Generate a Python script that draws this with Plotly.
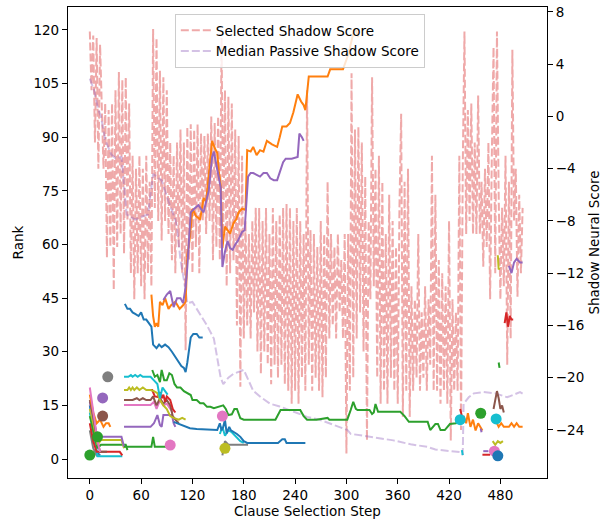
import plotly.graph_objects as go

# ---- right axis: shadow scores (one value every 2 steps) ----
selected_steps = list(range(0, 508, 2))
selected_score = [
    6.5, 2, 6.2, -2, 6, -4, 5.5, 1, -4, 1,
    -10.8, 0.5, -10, 1, -13.3, 2, -10, 3.4, -9, 2.8,
    -10.5, 3, -8, 1, -12, -3, -14, -4, -12, -3,
    -13, -4, -14, -3, -12, -5, -13, 6.7, -7, 6,
    -8, 3.5, -9.5, 3, -8, 2, -9, -2, -11, -3,
    -12, -2, -10, -1, -12, -2, -17.9, -0.8, -11, -0.6,
    -12, -1, -10, -0.6, -12, -1.3, -8, -1.5, -9, -1.3,
    -8, 0, -11, -0.5, -10, 0, -11, 6, -9, 2,
    -13, 1.5, -12, 1, -11, -1, -16, -1.5, -20.7, -3,
    -17, -8, -16, -9, -17, -8, -15, -7, -18, -7,
    -19.7, -8, -18, -7, -19, -9, -20.5, -7, -19, -8,
    -20, -7.5, -19, -7, -20.5, -6.7, -21, -7, -22, -8,
    -21, -7, -22, -8, -20, -9, -21, 2, -19, -8.7,
    -21, -9, -20, -10, -21, -8, -21.5, -9, -20, -5,
    -17, -9, -16, -10, -17, -9, -15, -11, -17, -9,
    -25.8, -9, -21, 3.3, -20, -1, -17, -0.8, -15, -2,
    -18, -4.6, -24.8, -8, -14, 3, -13, -4, -20, -3,
    -22, -5, -21, -9, -22, -6, -20, -8, -21, -10,
    -22, -7, 0.2, -23, -5, -21, -4, -23, -13, -21,
    -14, -20, -9, -21, -15, -20, -13, -21, -14, -19,
    -3, -21, -6, -21, -11, -22, -12, -21, -13, -22,
    -8, -24.8, -14, -21, -15, -21, -3, -24, -4, 6.5,
    -9, 0.5, -8, 1, -9, -2, -9, 1.6, -9, -5,
    -11.5, -4, -10, -2, -14, -3, 5.3, -12, 6.5, -6,
    -14, -7, -13, -3, -19, -5, -17, 5.1, -8, -4,
    -13.8, -6, -12, -7,
]

median_steps = [0, 5, 10, 13, 18, 25, 30, 37, 43, 53, 60, 68, 74, 84, 92, 100, 102,
                106, 110, 114, 120, 126, 129, 137, 145, 153, 156, 162, 168, 180, 191,
                200, 211, 222, 234, 254, 268, 281, 301, 305, 325, 340, 355, 375, 395,
                404, 420, 433, 436, 437, 443, 449, 460, 474, 488, 503, 508]
median_score = [2.9, 2, 0.5, 0, -1.8, -2.9, -3.2, -3.1, -7.5, -7.9, -7.7, -7.5, -4.4,
                -4.9, -6.5, -7.9, -8.5, -11, -12.5, -14.3, -14.2, -14.8, -15.1, -16,
                -17, -20, -20.5, -20, -19.7, -19.4, -21, -21.5, -22, -22.2, -22.5, -23,
                -23.2, -23.5, -24, -24.3, -24.5, -24.6, -24.8, -25.1, -25.3, -25.5,
                -25.6, -25.7, -25.9, -22, -21.5, -21.2, -21.1, -21.2, -21.5, -21.1, -21.3]

# ---- left axis: clause ranks ----
orange_steps = [72, 74, 76, 78, 80, 82, 85, 88, 92, 95, 100, 105, 109, 112, 114, 117, 120,
                124, 129, 133, 136, 139, 141, 143, 146, 149, 151, 153, 155, 158, 161, 164,
                168, 171, 174, 178, 182, 184, 188, 191, 195, 199, 203, 207, 213, 219, 222,
                225, 230, 234, 238, 243, 247, 250, 252, 256, 265, 272, 278, 281, 290, 296,
                299, 302, 305, 308, 311, 314]
orange_ranks = [46, 40, 37, 38, 37, 44, 43, 45, 42, 43, 44, 42, 43, 44, 57, 62, 70, 68, 67,
                73, 72, 80, 84, 89, 87, 85.6, 80, 77, 59, 65, 64, 63, 66, 67, 69, 70, 69.7,
                86.4, 86, 87.3, 85, 86.4, 86, 89, 88, 87.3, 90, 93, 93, 94, 97, 102, 100,
                99, 97.6, 107, 107, 107, 107, 109, 109, 109, 111, 113, 116, 119, 120, 118]

purple_steps = [86, 90, 94, 98, 102, 106, 109, 112, 114, 116, 118, 122, 127, 133, 136, 139,
                141, 143, 145, 147, 150, 153, 155, 158, 161, 164, 167, 170, 173, 178, 181,
                184, 185, 188, 191, 195, 199, 203, 207, 211, 215, 219, 223, 226, 229, 236,
                243, 245, 248, 250]
purple_ranks = [44.5, 46, 47, 42.5, 45, 45, 43.6, 48, 53.7, 62, 69, 70, 71, 69, 72, 75, 80,
                84.5, 86, 83.6, 80, 76, 53.7, 58, 61, 59, 58.5, 60, 61, 63.5, 64, 77, 79,
                80, 80, 79.5, 79, 80, 80, 78.5, 78, 78, 81, 83, 84, 84, 84.5, 91, 90, 89]

blue_steps = [41, 44, 47, 50, 53, 57, 60, 63, 66, 69, 72, 74, 78, 81, 84, 88, 92, 96, 100,
              104, 107, 110, 112, 114, 116, 118, 121, 125, 128, 132]
blue_ranks = [43.4, 42, 42, 41, 40.6, 40, 41, 39, 39, 38, 37, 32, 31, 32, 31.3, 32, 31.3,
              30, 28.5, 27, 26, 25.5, 24.3, 27, 31, 34, 35, 35, 34, 34]

green_steps = [73, 76, 79, 82, 84, 87, 90, 93, 96, 99, 102, 106, 110, 114, 118, 120, 125,
               129, 133, 137, 141, 145, 150, 156, 159, 162, 166, 169, 172, 176, 180, 190,
               200, 211, 217, 223, 230, 240, 246, 250, 254, 265, 278, 280, 290, 301, 305,
               308, 311, 313, 320, 327, 330, 332, 334, 337, 345, 355, 363, 368, 373, 385,
               395, 398, 404, 407, 410, 415, 421, 428, 433]
green_ranks = [24.9, 23, 23.5, 21.5, 24.9, 22, 22, 24, 23.5, 21, 20, 20, 19, 18.4, 17.9,
               16.5, 16.5, 15.6, 15.6, 14.6, 14.6, 14.2, 14.5, 15, 14, 12.3, 12.5, 14, 14,
               11.4, 11, 11, 11, 11, 11, 13.7, 13.7, 13.7, 13.7, 12, 11, 11, 11.5, 11, 11,
               11, 13.7, 16, 14, 13.7, 13.7, 13.7, 12.6, 13, 15.4, 13.2, 13.2, 13.2, 13.2,
               12, 10.4, 10.4, 10.4, 8.1, 9.8, 9.8, 8.1, 8.1, 9.8, 10, 11]

blue_low_steps = [98, 102, 106, 112, 117, 125, 135, 149, 152, 154, 156, 158, 160, 163, 165,
                  168, 172, 176, 180, 184, 190, 199, 210, 220, 225, 228, 230, 240, 252]
blue_low_ranks = [10.4, 10, 9.5, 9, 8.6, 8.4, 8.2, 8.1, 10, 8, 9, 11, 7.2, 9, 8, 7.6, 7,
                  6.2, 5, 4.5, 4.5, 4.5, 4.5, 4.5, 5.5, 5.5, 4.5, 4.5, 4.5]

cyan_steps = [40, 45, 48, 50, 53, 56, 59, 62, 66, 71, 75, 79, 82, 85, 88, 91]
cyan_ranks = [23, 23, 23.5, 23, 23.5, 23, 23.5, 23, 23, 23, 22, 21, 17, 20, 19, 18]
cyan_low_steps = [152, 155, 158, 162, 166, 170, 176, 180]
cyan_low_ranks = [7, 9, 6.5, 8, 7.5, 6.5, 5, 4.5]

olive_steps = [40, 44, 46, 48, 50, 52, 55, 58, 62, 66, 71, 75, 79, 82, 86, 90, 94, 98, 104,
               108, 112]
olive_ranks = [19.3, 19.3, 20, 19.3, 20, 19.3, 20, 19.3, 20, 19.3, 19.3, 19, 18.4, 16.5, 15,
               14, 12, 11.5, 11, 11.5, 11]

red_steps = [71, 73, 76, 79, 82, 84, 86, 88, 90, 94, 97, 100]
red_ranks = [19.3, 19.3, 17.5, 17.4, 18.7, 17, 18, 16, 17.5, 16.5, 14, 13]

brown_steps = [40, 50, 55, 58, 62, 66, 71, 74, 78, 82, 86, 90, 94, 97, 100, 104]
brown_ranks = [16.5, 16.5, 17, 16.5, 17, 16.5, 16.5, 17.5, 15, 17, 15.5, 16.5, 15, 12, 11, 10]

pink_steps = [40, 50, 60, 71, 75, 78, 82, 86, 90, 94, 97]
pink_ranks = [15.1, 15.1, 15.1, 15.1, 16, 14, 16.5, 15, 15.5, 14, 13]

purple_low_steps = [40, 60, 71, 75, 79, 82, 84, 86, 90, 96, 98, 100]
purple_low_ranks = [9, 9, 9, 10, 12.3, 9.5, 9, 12.3, 12.3, 12.3, 10, 9]

green_low_steps = [40, 60, 72, 74, 76, 94]
green_low_ranks = [3.4, 3.4, 3.4, 6.2, 3.4, 3.4]

gray_low_steps = [155, 158, 162, 170, 180, 185]
gray_low_ranks = [1, 5, 4, 4, 4.2, 4]

# early fan of ranks (steps 0-44)
fan_pink = ([0, 3, 6, 9, 12], [20, 15, 10, 5, 2])
fan_orange = ([0, 4, 8, 12, 16, 19, 22, 24], [18, 13, 10, 11, 9, 10, 10, 9])
fan_brown = ([0, 4, 8, 12, 20], [16.5, 12, 6, 2, 2])
fan_purple = ([0, 5, 9, 13, 37, 40], [16, 10, 6, 6.2, 6.2, 3.4])
fan_olive = ([0, 5, 9, 13, 37, 40], [14, 9, 4, 5.3, 5.3, 3])
fan_green = ([0, 5, 9, 13, 42, 44], [12, 7, 3, 4, 4, 2.5])
fan_red = ([0, 4, 8, 35, 38], [10, 5, 2, 2, 1])
fan_cyan = ([0, 5, 9, 38], [13, 6, 0.8, 0.8])
fan_gray = ([0, 4, 8, 12], [8, 3, 1, 1])
fan_blue = ([0, 4, 8, 12], [15, 8, 2, 1])

# late fragments (steps 430-506)
orange_end_a = ([437, 440, 442, 445, 448, 451, 454, 457, 459], [12, 10, 12.8, 9, 11, 8, 10, 9, 8])
orange_end_b = ([474, 478, 481, 484, 487, 490, 493, 496, 499, 502, 506],
                [11, 9, 10, 9, 9, 9, 10, 9, 10, 9, 9])
purple_end = ([490, 493, 496, 499, 503, 506], [54, 52, 55, 56, 55, 55])
olive_end_top = ([477, 478, 479], [57, 53, 53.5])
red_end = ([485, 487, 489, 491, 493, 495], [38, 41, 37, 40, 39, 39])
green_end = ([478, 479], [27, 25.5])
brown_end = ([472, 474, 476, 478, 480, 482, 484], [14, 17, 19, 17, 14, 15, 13])
red_small = ([433, 435], [14, 12])
cyan_small = ([435, 436], [2.5, 1.1])
purple_small = ([457, 458], [8.5, 7.5])
red_flat = ([459, 468], [1.2, 1.2])
purple_flat = ([460, 466], [2.2, 2.2])
olive_small = ([471, 474, 477, 480, 483], [5, 4, 5, 4.5, 5])

dot_steps = [0, 9, 15, 15, 21, 94, 155, 158, 433, 457, 475, 473, 477]
dot_ranks = [1.1, 6.2, 12, 17.1, 23, 3.9, 12, 3, 11, 12.8, 11.2, 2.2, 0.9]
dot_colors = ["#2ca02c", "#2ca02c", "#8c564b", "#9467bd", "#7f7f7f", "#e377c2", "#e377c2",
              "#bcbd22", "#17becf", "#2ca02c", "#17becf", "#e377c2", "#1f77b4"]

BLUE, ORANGE, GREEN, RED, PURPLE = "#1f77b4", "#ff7f0e", "#2ca02c", "#d62728", "#9467bd"
BROWN, PINK, GRAY, OLIVE, CYAN = "#8c564b", "#e377c2", "#7f7f7f", "#bcbd22", "#17becf"

rank_lines = [
    (BLUE, fan_blue), (GRAY, fan_gray), (CYAN, fan_cyan), (RED, fan_red),
    (GREEN, fan_green), (OLIVE, fan_olive), (PURPLE, fan_purple), (BROWN, fan_brown),
    (ORANGE, fan_orange), (PINK, fan_pink),
    (GREEN, (green_low_steps, green_low_ranks)), (PURPLE, (purple_low_steps, purple_low_ranks)),
    (PINK, (pink_steps, pink_ranks)), (BROWN, (brown_steps, brown_ranks)),
    (RED, (red_steps, red_ranks)), (OLIVE, (olive_steps, olive_ranks)),
    (CYAN, (cyan_steps, cyan_ranks)), (GRAY, (gray_low_steps, gray_low_ranks)),
    (CYAN, (cyan_low_steps, cyan_low_ranks)), (BLUE, (blue_low_steps, blue_low_ranks)),
    (GREEN, (green_steps, green_ranks)), (BLUE, (blue_steps, blue_ranks)),
    (ORANGE, (orange_steps, orange_ranks)), (PURPLE, (purple_steps, purple_ranks)),
    (RED, red_small), (CYAN, cyan_small), (ORANGE, orange_end_a), (PURPLE, purple_small),
    (RED, red_flat), (PURPLE, purple_flat), (OLIVE, olive_small), (BROWN, brown_end),
    (GREEN, green_end), (RED, red_end), (OLIVE, olive_end_top), (ORANGE, orange_end_b),
    (PURPLE, purple_end),
]

fig = go.Figure()

fig.add_trace(go.Scatter(
    x=selected_steps, y=selected_score, mode="lines", name="Selected Shadow Score",
    line=dict(color="rgba(214,39,40,0.4)", width=2, dash="8px,3px"), yaxis="y"))
fig.add_trace(go.Scatter(
    x=median_steps, y=median_score, mode="lines", name="Median Passive Shadow Score",
    line=dict(color="rgba(148,103,189,0.4)", width=2, dash="8px,3px"), yaxis="y"))

for color, (xs, ys) in rank_lines:
    fig.add_trace(go.Scatter(
        x=xs, y=ys, mode="lines", line=dict(color=color, width=2),
        showlegend=False, yaxis="y2"))

fig.add_trace(go.Scatter(
    x=dot_steps, y=dot_ranks, mode="markers",
    marker=dict(color=dot_colors, size=11), showlegend=False, yaxis="y2"))

font = dict(family="DejaVu Sans", size=13.5, color="black")
axis_style = dict(showgrid=False, zeroline=False, showline=True, linecolor="black",
                  linewidth=1.2, ticks="outside", ticklen=5, tickcolor="black",
                  tickfont=font, automargin=False)

fig.update_layout(
    width=604, height=520,
    margin=dict(l=68, r=57, t=7, b=42),
    plot_bgcolor="white", paper_bgcolor="white",
    font=font,
    xaxis=dict(range=[-25.5, 534.5], tickvals=list(range(0, 481, 60)), mirror=True,
               title=dict(text="Clause Selection Step", font=font, standoff=2),
               **axis_style),
    yaxis=dict(side="right", range=[-27.68, 8.38], tickvals=list(range(-24, 9, 4)),
               title=dict(text="Shadow Neural Score", font=font, standoff=6), **axis_style),
    yaxis2=dict(side="left", overlaying="y", range=[-5.31, 126.43],
                tickvals=list(range(0, 121, 15)),
                title=dict(text="Rank", font=font, standoff=6), **axis_style),
    legend=dict(x=0.223, y=0.985, xanchor="left", yanchor="top",
                bgcolor="rgba(255,255,255,0.8)", bordercolor="#cccccc", borderwidth=1,
                font=font),
)

# drop the page's default 8px body margin so the figure fills the window
fig.write_html("out.html", config={"displayModeBar": False},
               post_script="document.body.style.margin = '0px';")
